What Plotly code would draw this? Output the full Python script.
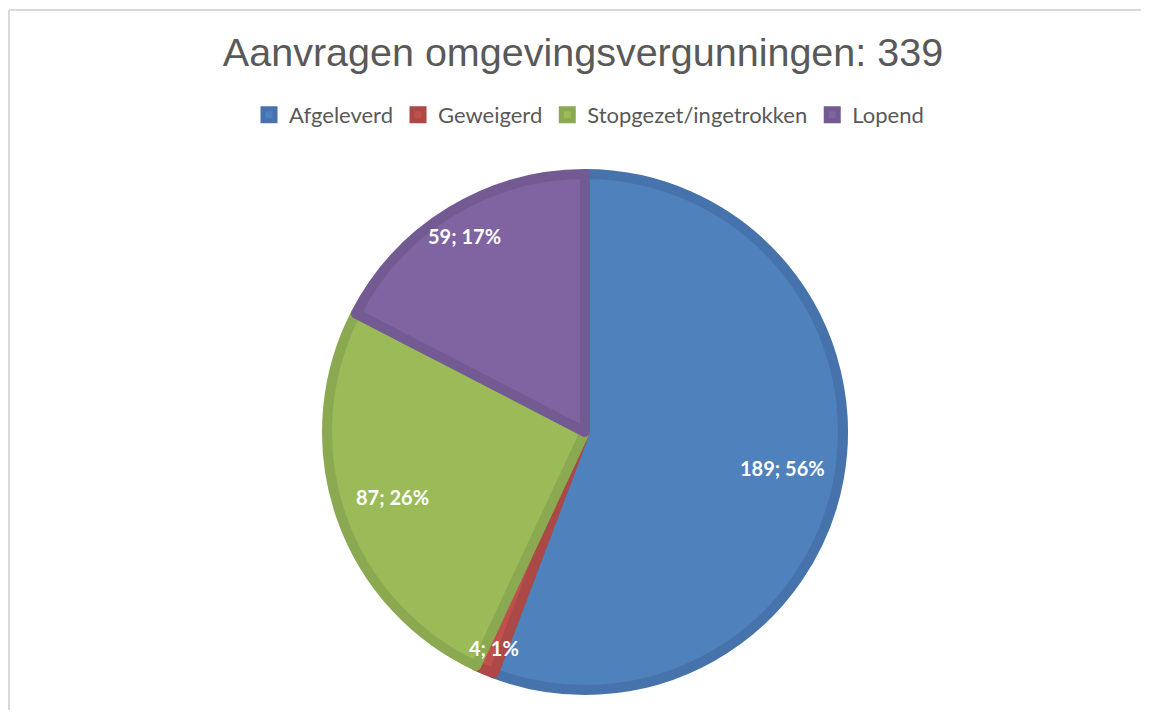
import plotly.graph_objects as go

categories = ["Afgeleverd", "Geweigerd", "Stopgezet/ingetrokken", "Lopend"]
values = [189, 4, 87, 59]
fill_colors = ["#4F81BD", "#C0504D", "#9BBB59", "#8064A2"]
line_colors = ["#4673AB", "#AC4845", "#8BA950", "#735A93"]
title_text = "Aanvragen omgevingsvergunningen: " + str(sum(values))

# page offset (browser body margin) compensation
OFF = 8
W, H = 1149 - 2 * OFF, 718 - 2 * OFF
cx, cy, r = 585 - OFF, 432 - OFF, 258

# data-label centres (page pixels) as placed in the original chart
label_pos = [(782, 468), (494, 648), (392, 497), (464, 236)]

total = sum(values)
annotations = []
for v, (px, py) in zip(values, label_pos):
    annotations.append(dict(
        text=f"{v}; {round(100 * v / total)}%",
        x=(px - OFF) / W, y=1 - (py - OFF) / H, xref="paper", yref="paper",
        xanchor="center", yanchor="middle", showarrow=False,
        font=dict(family="Lato", size=20, color="white", weight="bold"),
    ))

fig = go.Figure()
fig.add_trace(go.Pie(
    labels=categories,
    values=values,
    sort=False,
    direction="clockwise",
    rotation=0,
    marker=dict(colors=fill_colors, line=dict(color=line_colors, width=10)),
    textinfo="none",
    hoverinfo="skip",
    domain=dict(x=[(cx - r) / W, (cx + r) / W], y=[1 - (cy + r) / H, 1 - (cy - r) / H]),
))

fx, fy = (9 - OFF) / W, 1 - (10 - OFF) / H
fig.update_layout(
    width=W, height=H,
    margin=dict(l=0, r=0, t=0, b=0),
    paper_bgcolor="white",
    title=dict(text=title_text, x=(583 - OFF) / W, xanchor="center", y=1 - (52 - OFF) / H, yanchor="middle",
               font=dict(family="Liberation Sans", size=39.5, color="#595959")),
    legend=dict(orientation="h", x=(589 - OFF) / W, xanchor="center", y=1 - (115 - OFF) / H, yanchor="middle",
                font=dict(family="Lato", size=22, color="#595959"), traceorder="normal"),
    annotations=annotations,
    shapes=[
        dict(type="line", xref="paper", yref="paper", x0=fx, x1=fx, y0=0, y1=fy,
             line=dict(color="#D9D9D9", width=2), layer="below"),
        dict(type="line", xref="paper", yref="paper", x0=fx, x1=1, y0=fy, y1=fy,
             line=dict(color="#D9D9D9", width=2), layer="below"),
    ],
)

fig.write_html("out.html")
